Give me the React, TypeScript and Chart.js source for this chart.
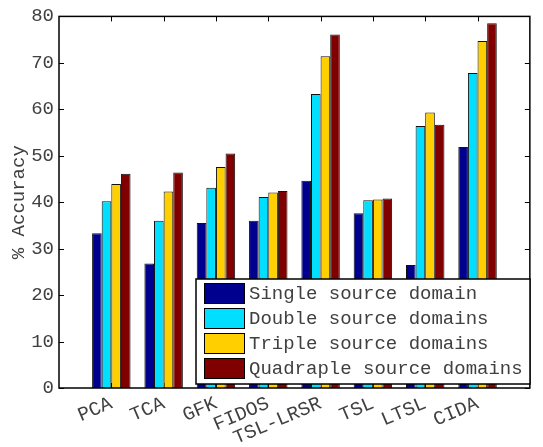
import React, { useEffect, useRef } from "react";
import { Chart, registerables } from "chart.js";

Chart.register(...registerables);

const categories = ["PCA", "TCA", "GFK", "FIDOS", "TSL-LRSR", "TSL", "LTSL", "CIDA"];
const seriesNames = [
  "Single source domain",
  "Double source domains",
  "Triple source domains",
  "Quadraple source domains",
];
const singleSource = [33.3, 26.8, 35.5, 36.0, 44.6, 37.6, 26.5, 51.9];
const doubleSource = [40.2, 36.0, 43.1, 41.1, 63.3, 40.4, 56.4, 67.8];
const tripleSource = [43.9, 42.3, 47.6, 42.1, 71.4, 40.6, 59.3, 74.7];
const quadSource = [46.1, 46.4, 50.5, 42.4, 76.1, 40.8, 56.7, 78.5];
const seriesColors = ["#00008F", "#00DFFF", "#FFCF00", "#800000"];
const yTicks = [0, 10, 20, 30, 40, 50, 60, 70, 80];

const FONT = "'Liberation Mono', 'DejaVu Sans Mono', monospace";
const TEXT = "#404040";

const boxPlugin = {
  id: "matlabBox",
  beforeDatasetsDraw(chart: any) {
    const { ctx, chartArea: a, scales } = chart;
    ctx.save();
    ctx.strokeStyle = "#000";
    ctx.lineWidth = 1;
    const tl = 5;
    ctx.beginPath();
    yTicks.forEach((v) => {
      const y = Math.round(scales.y.getPixelForValue(v)) + 0.5;
      ctx.moveTo(a.left, y);
      ctx.lineTo(a.left + tl, y);
      ctx.moveTo(a.right, y);
      ctx.lineTo(a.right - tl, y);
    });
    categories.forEach((_, i) => {
      const x = Math.round(scales.x.getPixelForValue(i + 1)) + 0.5;
      ctx.moveTo(x, a.top);
      ctx.lineTo(x, a.top + tl);
      ctx.moveTo(x, a.bottom);
      ctx.lineTo(x, a.bottom - tl);
    });
    ctx.stroke();
    ctx.restore();
  },
  afterDatasetsDraw(chart: any) {
    const { ctx, chartArea: a } = chart;
    ctx.save();
    ctx.strokeStyle = "#000";
    ctx.lineWidth = 1.5;
    ctx.strokeRect(a.left, a.top, a.right - a.left, a.bottom - a.top);
    ctx.restore();
  },
  afterDraw(chart: any) {
    const { ctx } = chart;
    const bx = 196, by = 279, bw = 334, bh = 105;
    ctx.save();
    ctx.fillStyle = "#fff";
    ctx.fillRect(bx, by, bw, bh);
    ctx.strokeStyle = "#000";
    ctx.lineWidth = 1.5;
    ctx.strokeRect(bx, by, bw, bh);
    ctx.font = `19px ${FONT}`;
    ctx.textBaseline = "middle";
    ctx.textAlign = "left";
    seriesNames.forEach((name, i) => {
      const cy = by + 14 + i * 25;
      ctx.fillStyle = seriesColors[i];
      ctx.fillRect(bx + 8, cy - 10, 40, 20);
      ctx.lineWidth = 1;
      ctx.strokeStyle = "#000";
      ctx.strokeRect(bx + 8.5, cy - 9.5, 40, 20);
      ctx.fillStyle = TEXT;
      ctx.fillText(name, bx + 53, cy + 1);
    });
    ctx.restore();
  },
};

export default function App() {
  const ref = useRef<HTMLCanvasElement>(null);
  useEffect(() => {
    if (!ref.current) return;
    const labels = ["", ...categories, ""];
    const pad = (arr: number[]) => [null, ...arr, null];
    const all = [singleSource, doubleSource, tripleSource, quadSource];
    const chart = new Chart(ref.current, {
      type: "bar",
      data: {
        labels,
        datasets: all.map((d, i) => ({
          label: seriesNames[i],
          data: pad(d),
          backgroundColor: seriesColors[i],
          borderColor: "#111",
          borderWidth: 1,
          categoryPercentage: 0.735,
          barPercentage: 1,
        })),
      },
      options: {
        responsive: false,
        animation: false,
        layout: { padding: { left: 0, right: 2, top: 14, bottom: 0 } },
        plugins: { legend: { display: false }, tooltip: { enabled: false } },
        scales: {
          x: {
            type: "category",
            offset: false,
            grid: { display: false, drawTicks: false },
            border: { display: false },
            ticks: {
              autoSkip: false,
              maxRotation: 23,
              minRotation: 23,
              padding: 4,
              color: TEXT,
              font: { family: FONT, size: 19.5 },
            },
            afterFit: (s: any) => {
              s.height = 59;
            },
          },
          y: {
            min: 0,
            max: 80,
            grid: { display: false, drawTicks: false },
            border: { display: false },
            ticks: {
              stepSize: 10,
              padding: 5,
              color: TEXT,
              font: { family: FONT, size: 19 },
            },
            title: {
              display: true,
              text: "% Accuracy",
              color: TEXT,
              font: { family: FONT, size: 19 },
              padding: { top: 8, bottom: 0 },
            },
            afterFit: (s: any) => {
              s.width = 59;
            },
          },
        },
      },
      plugins: [boxPlugin],
    });
    return () => chart.destroy();
  }, []);
  return (
    <div style={{ position: "fixed", left: 0, top: 0, width: 543, height: 447, background: "#fff" }}>
      <canvas ref={ref} width={543} height={447} style={{ display: "block" }} />
    </div>
  );
}
